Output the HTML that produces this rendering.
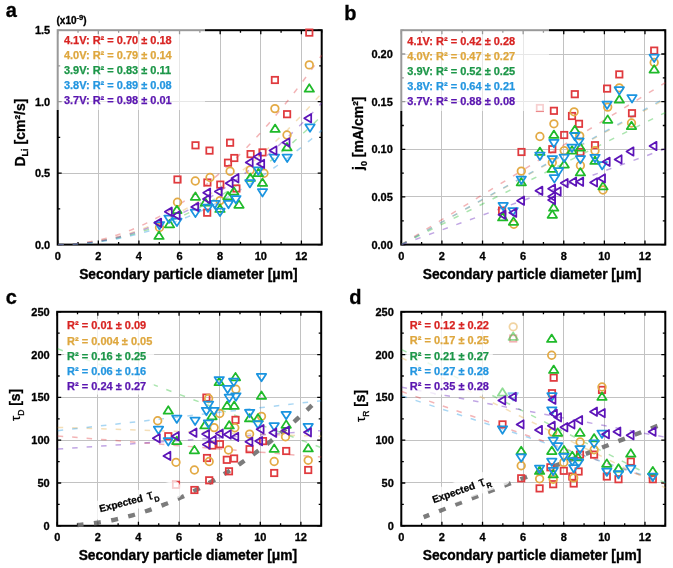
<!DOCTYPE html>
<html><head><meta charset="utf-8"><style>
html,body{margin:0;padding:0;background:#fff;}
svg{display:block;will-change:transform;}
text{font-family:"Liberation Sans",sans-serif;font-weight:bold;}
.tk{font-size:11px;fill:#000;stroke:#000;stroke-width:0.3px;}
.xl{font-size:14px;fill:#000;stroke:#000;stroke-width:0.3px;}
.xlb{font-size:13.8px;fill:#000;stroke:#000;stroke-width:0.35px;}
.lg{font-size:11px;}
.ex{font-size:10px;fill:#000;stroke:#000;stroke-width:0.25px;}
.pl{font-size:20px;fill:#000;stroke:#000;stroke-width:0.3px;}
</style></head><body>
<svg width="673" height="568" viewBox="0 0 673 568">
<rect width="673" height="568" fill="#fff"/>
<path d="M98.50 30.20V244.60M138.50 30.20V244.60M179.50 30.20V244.60M220.50 30.20V244.60M260.50 30.20V244.60M301.50 30.20V244.60M57.70 173.50H321.70M57.70 101.50H321.70" stroke="#c2c2c2" stroke-width="1" fill="none"/>
<path d="M57.70 244.60v-4M57.70 30.20v4M78.01 244.60v-2.5M78.01 30.20v2.5M98.32 244.60v-4M98.32 30.20v4M118.62 244.60v-2.5M118.62 30.20v2.5M138.93 244.60v-4M138.93 30.20v4M159.24 244.60v-2.5M159.24 30.20v2.5M179.55 244.60v-4M179.55 30.20v4M199.85 244.60v-2.5M199.85 30.20v2.5M220.16 244.60v-4M220.16 30.20v4M240.47 244.60v-2.5M240.47 30.20v2.5M260.78 244.60v-4M260.78 30.20v4M281.08 244.60v-2.5M281.08 30.20v2.5M301.39 244.60v-4M301.39 30.20v4M321.70 244.60v-2.5M321.70 30.20v2.5M57.70 244.60h4M321.70 244.60h-4M57.70 208.87h2.5M321.70 208.87h-2.5M57.70 173.13h4M321.70 173.13h-4M57.70 137.40h2.5M321.70 137.40h-2.5M57.70 101.67h4M321.70 101.67h-4M57.70 65.93h2.5M321.70 65.93h-2.5M57.70 30.20h4M321.70 30.20h-4" stroke="#000" stroke-width="1.3" fill="none"/>
<rect x="57.70" y="30.20" width="264.00" height="214.40" stroke="#000" stroke-width="2" fill="none"/>
<text x="57.70" y="259.60" text-anchor="middle" class="tk">0</text>
<text x="98.32" y="259.60" text-anchor="middle" class="tk">2</text>
<text x="138.93" y="259.60" text-anchor="middle" class="tk">4</text>
<text x="179.55" y="259.60" text-anchor="middle" class="tk">6</text>
<text x="220.16" y="259.60" text-anchor="middle" class="tk">8</text>
<text x="260.78" y="259.60" text-anchor="middle" class="tk">10</text>
<text x="301.39" y="259.60" text-anchor="middle" class="tk">12</text>
<text x="50.20" y="248.50" text-anchor="end" class="tk">0.0</text>
<text x="50.20" y="177.03" text-anchor="end" class="tk">0.5</text>
<text x="50.20" y="105.57" text-anchor="end" class="tk">1.0</text>
<text x="50.20" y="34.10" text-anchor="end" class="tk">1.5</text>
<text x="188.40" y="278.60" text-anchor="middle" class="xlb">Secondary particle diameter [μm]</text>
<path d="M57.70 244.60 L59.73 244.59 L61.76 244.56 L63.79 244.50 L65.82 244.42 L67.85 244.32 L69.88 244.20 L71.92 244.05 L73.95 243.88 L75.98 243.69 L78.01 243.48 L80.04 243.24 L82.07 242.99 L84.10 242.71 L86.13 242.40 L88.16 242.08 L90.19 241.73 L92.22 241.36 L94.25 240.97 L96.28 240.55 L98.32 240.12 L100.35 239.66 L102.38 239.18 L104.41 238.67 L106.44 238.15 L108.47 237.60 L110.50 237.02 L112.53 236.43 L114.56 235.81 L116.59 235.18 L118.62 234.51 L120.65 233.83 L122.68 233.13 L124.72 232.40 L126.75 231.65 L128.78 230.87 L130.81 230.08 L132.84 229.26 L134.87 228.42 L136.90 227.56 L138.93 226.67 L140.96 225.76 L142.99 224.83 L145.02 223.88 L147.05 222.91 L149.08 221.91 L151.12 220.89 L153.15 219.85 L155.18 218.78 L157.21 217.69 L159.24 216.59 L161.27 215.45 L163.30 214.30 L165.33 213.12 L167.36 211.92 L169.39 210.70 L171.42 209.46 L173.45 208.19 L175.48 206.90 L177.52 205.59 L179.55 204.26 L181.58 202.90 L183.61 201.52 L185.64 200.12 L187.67 198.70 L189.70 197.25 L191.73 195.79 L193.76 194.30 L195.79 192.78 L197.82 191.25 L199.85 189.69 L201.88 188.11 L203.92 186.51 L205.95 184.88 L207.98 183.24 L210.01 181.57 L212.04 179.87 L214.07 178.16 L216.10 176.42 L218.13 174.66 L220.16 172.88 L222.19 171.08 L224.22 169.25 L226.25 167.40 L228.28 165.53 L230.32 163.64 L232.35 161.72 L234.38 159.78 L236.41 157.82 L238.44 155.84 L240.47 153.83 L242.50 151.80 L244.53 149.75 L246.56 147.68 L248.59 145.58 L250.62 143.47 L252.65 141.33 L254.68 139.16 L256.72 136.98 L258.75 134.77 L260.78 132.54 L262.81 130.29 L264.84 128.01 L266.87 125.72 L268.90 123.40 L270.93 121.05 L272.96 118.69 L274.99 116.30 L277.02 113.89 L279.05 111.46 L281.08 109.01 L283.12 106.53 L285.15 104.03 L287.18 101.51 L289.21 98.97 L291.24 96.40 L293.27 93.81 L295.30 91.20 L297.33 88.57 L299.36 85.91 L301.39 83.23 L303.42 80.53 L305.45 77.81 L307.48 75.06 L309.52 72.30 L311.55 69.51 L313.58 66.69 L315.61 63.86 L317.64 61.00 L319.67 58.12 L321.70 55.22" stroke="#e03a3e" stroke-width="1.5" fill="none" stroke-dasharray="5.5 9" stroke-dashoffset="-0.5" opacity="0.38"/>
<path d="M57.70 244.60 L59.73 244.59 L61.76 244.56 L63.79 244.52 L65.82 244.46 L67.85 244.38 L69.88 244.28 L71.92 244.16 L73.95 244.03 L75.98 243.87 L78.01 243.70 L80.04 243.52 L82.07 243.31 L84.10 243.09 L86.13 242.84 L88.16 242.58 L90.19 242.31 L92.22 242.01 L94.25 241.70 L96.28 241.36 L98.32 241.02 L100.35 240.65 L102.38 240.26 L104.41 239.86 L106.44 239.44 L108.47 239.00 L110.50 238.54 L112.53 238.07 L114.56 237.57 L116.59 237.06 L118.62 236.53 L120.65 235.99 L122.68 235.42 L124.72 234.84 L126.75 234.24 L128.78 233.62 L130.81 232.99 L132.84 232.33 L134.87 231.66 L136.90 230.97 L138.93 230.26 L140.96 229.54 L142.99 228.79 L145.02 228.03 L147.05 227.25 L149.08 226.45 L151.12 225.64 L153.15 224.80 L155.18 223.95 L157.21 223.08 L159.24 222.20 L161.27 221.29 L163.30 220.37 L165.33 219.43 L167.36 218.47 L169.39 217.49 L171.42 216.50 L173.45 215.48 L175.48 214.45 L177.52 213.40 L179.55 212.34 L181.58 211.25 L183.61 210.15 L185.64 209.03 L187.67 207.89 L189.70 206.74 L191.73 205.56 L193.76 204.37 L195.79 203.16 L197.82 201.93 L199.85 200.69 L201.88 199.42 L203.92 198.14 L205.95 196.84 L207.98 195.52 L210.01 194.19 L212.04 192.84 L214.07 191.46 L216.10 190.08 L218.13 188.67 L220.16 187.24 L222.19 185.80 L224.22 184.34 L226.25 182.86 L228.28 181.36 L230.32 179.85 L232.35 178.32 L234.38 176.77 L236.41 175.20 L238.44 173.61 L240.47 172.01 L242.50 170.39 L244.53 168.75 L246.56 167.09 L248.59 165.41 L250.62 163.72 L252.65 162.01 L254.68 160.28 L256.72 158.53 L258.75 156.76 L260.78 154.98 L262.81 153.18 L264.84 151.36 L266.87 149.52 L268.90 147.67 L270.93 145.79 L272.96 143.90 L274.99 141.99 L277.02 140.07 L279.05 138.12 L281.08 136.16 L283.12 134.18 L285.15 132.18 L287.18 130.17 L289.21 128.13 L291.24 126.08 L293.27 124.01 L295.30 121.92 L297.33 119.81 L299.36 117.69 L301.39 115.55 L303.42 113.39 L305.45 111.21 L307.48 109.02 L309.52 106.80 L311.55 104.57 L313.58 102.32 L315.61 100.05 L317.64 97.77 L319.67 95.46 L321.70 93.14" stroke="#e3aa45" stroke-width="1.5" fill="none" stroke-dasharray="5.5 9" stroke-dashoffset="-0.5" opacity="0.38"/>
<path d="M57.70 244.60 L59.73 244.59 L61.76 244.57 L63.79 244.53 L65.82 244.48 L67.85 244.41 L69.88 244.33 L71.92 244.23 L73.95 244.11 L75.98 243.98 L78.01 243.84 L80.04 243.68 L82.07 243.50 L84.10 243.31 L86.13 243.11 L88.16 242.89 L90.19 242.65 L92.22 242.40 L94.25 242.13 L96.28 241.85 L98.32 241.55 L100.35 241.24 L102.38 240.91 L104.41 240.57 L106.44 240.21 L108.47 239.84 L110.50 239.45 L112.53 239.05 L114.56 238.63 L116.59 238.19 L118.62 237.74 L120.65 237.28 L122.68 236.80 L124.72 236.30 L126.75 235.79 L128.78 235.27 L130.81 234.73 L132.84 234.17 L134.87 233.60 L136.90 233.01 L138.93 232.41 L140.96 231.79 L142.99 231.16 L145.02 230.51 L147.05 229.85 L149.08 229.17 L151.12 228.48 L153.15 227.77 L155.18 227.05 L157.21 226.31 L159.24 225.55 L161.27 224.78 L163.30 224.00 L165.33 223.20 L167.36 222.38 L169.39 221.55 L171.42 220.71 L173.45 219.85 L175.48 218.97 L177.52 218.08 L179.55 217.17 L181.58 216.25 L183.61 215.32 L185.64 214.36 L187.67 213.40 L189.70 212.41 L191.73 211.41 L193.76 210.40 L195.79 209.37 L197.82 208.33 L199.85 207.27 L201.88 206.20 L203.92 205.11 L205.95 204.00 L207.98 202.88 L210.01 201.75 L212.04 200.60 L214.07 199.43 L216.10 198.25 L218.13 197.05 L220.16 195.84 L222.19 194.62 L224.22 193.37 L226.25 192.12 L228.28 190.84 L230.32 189.56 L232.35 188.25 L234.38 186.94 L236.41 185.60 L238.44 184.26 L240.47 182.89 L242.50 181.51 L244.53 180.12 L246.56 178.71 L248.59 177.28 L250.62 175.84 L252.65 174.39 L254.68 172.92 L256.72 171.43 L258.75 169.93 L260.78 168.42 L262.81 166.89 L264.84 165.34 L266.87 163.78 L268.90 162.20 L270.93 160.61 L272.96 159.00 L274.99 157.38 L277.02 155.74 L279.05 154.09 L281.08 152.42 L283.12 150.73 L285.15 149.04 L287.18 147.32 L289.21 145.59 L291.24 143.85 L293.27 142.09 L295.30 140.31 L297.33 138.52 L299.36 136.72 L301.39 134.90 L303.42 133.06 L305.45 131.21 L307.48 129.34 L309.52 127.46 L311.55 125.56 L313.58 123.65 L315.61 121.72 L317.64 119.78 L319.67 117.82 L321.70 115.85" stroke="#1fba2a" stroke-width="1.5" fill="none" stroke-dasharray="5.5 9" stroke-dashoffset="-0.5" opacity="0.38"/>
<path d="M57.70 244.60 L59.73 244.59 L61.76 244.57 L63.79 244.54 L65.82 244.49 L67.85 244.43 L69.88 244.36 L71.92 244.27 L73.95 244.17 L75.98 244.05 L78.01 243.92 L80.04 243.78 L82.07 243.63 L84.10 243.46 L86.13 243.27 L88.16 243.08 L90.19 242.87 L92.22 242.65 L94.25 242.41 L96.28 242.16 L98.32 241.90 L100.35 241.62 L102.38 241.33 L104.41 241.02 L106.44 240.71 L108.47 240.37 L110.50 240.03 L112.53 239.67 L114.56 239.30 L116.59 238.91 L118.62 238.52 L120.65 238.10 L122.68 237.68 L124.72 237.24 L126.75 236.78 L128.78 236.32 L130.81 235.84 L132.84 235.34 L134.87 234.84 L136.90 234.32 L138.93 233.78 L140.96 233.24 L142.99 232.67 L145.02 232.10 L147.05 231.51 L149.08 230.91 L151.12 230.29 L153.15 229.67 L155.18 229.02 L157.21 228.37 L159.24 227.70 L161.27 227.02 L163.30 226.32 L165.33 225.61 L167.36 224.89 L169.39 224.15 L171.42 223.40 L173.45 222.63 L175.48 221.86 L177.52 221.07 L179.55 220.26 L181.58 219.44 L183.61 218.61 L185.64 217.77 L187.67 216.91 L189.70 216.04 L191.73 215.15 L193.76 214.25 L195.79 213.34 L197.82 212.41 L199.85 211.47 L201.88 210.52 L203.92 209.55 L205.95 208.57 L207.98 207.58 L210.01 206.57 L212.04 205.55 L214.07 204.52 L216.10 203.47 L218.13 202.41 L220.16 201.33 L222.19 200.24 L224.22 199.14 L226.25 198.03 L228.28 196.90 L230.32 195.75 L232.35 194.60 L234.38 193.43 L236.41 192.24 L238.44 191.05 L240.47 189.84 L242.50 188.61 L244.53 187.38 L246.56 186.13 L248.59 184.86 L250.62 183.58 L252.65 182.29 L254.68 180.99 L256.72 179.67 L258.75 178.34 L260.78 176.99 L262.81 175.63 L264.84 174.26 L266.87 172.88 L268.90 171.48 L270.93 170.06 L272.96 168.64 L274.99 167.20 L277.02 165.74 L279.05 164.28 L281.08 162.79 L283.12 161.30 L285.15 159.79 L287.18 158.27 L289.21 156.74 L291.24 155.19 L293.27 153.63 L295.30 152.05 L297.33 150.46 L299.36 148.86 L301.39 147.25 L303.42 145.62 L305.45 143.97 L307.48 142.32 L309.52 140.65 L311.55 138.96 L313.58 137.27 L315.61 135.56 L317.64 133.83 L319.67 132.09 L321.70 130.34" stroke="#1a94e0" stroke-width="1.5" fill="none" stroke-dasharray="5.5 9" stroke-dashoffset="-0.5" opacity="0.38"/>
<path d="M57.70 244.60 L59.73 244.59 L61.76 244.57 L63.79 244.52 L65.82 244.47 L67.85 244.39 L69.88 244.30 L71.92 244.19 L73.95 244.06 L75.98 243.92 L78.01 243.76 L80.04 243.59 L82.07 243.39 L84.10 243.18 L86.13 242.96 L88.16 242.72 L90.19 242.46 L92.22 242.18 L94.25 241.89 L96.28 241.58 L98.32 241.25 L100.35 240.91 L102.38 240.55 L104.41 240.17 L106.44 239.78 L108.47 239.37 L110.50 238.94 L112.53 238.49 L114.56 238.03 L116.59 237.56 L118.62 237.06 L120.65 236.55 L122.68 236.02 L124.72 235.48 L126.75 234.92 L128.78 234.34 L130.81 233.74 L132.84 233.13 L134.87 232.51 L136.90 231.86 L138.93 231.20 L140.96 230.52 L142.99 229.82 L145.02 229.11 L147.05 228.38 L149.08 227.64 L151.12 226.88 L153.15 226.10 L155.18 225.30 L157.21 224.49 L159.24 223.66 L161.27 222.81 L163.30 221.95 L165.33 221.07 L167.36 220.18 L169.39 219.26 L171.42 218.33 L173.45 217.39 L175.48 216.42 L177.52 215.44 L179.55 214.45 L181.58 213.43 L183.61 212.40 L185.64 211.36 L187.67 210.29 L189.70 209.21 L191.73 208.11 L193.76 207.00 L195.79 205.87 L197.82 204.72 L199.85 203.56 L201.88 202.38 L203.92 201.18 L205.95 199.96 L207.98 198.73 L210.01 197.49 L212.04 196.22 L214.07 194.94 L216.10 193.64 L218.13 192.33 L220.16 190.99 L222.19 189.65 L224.22 188.28 L226.25 186.90 L228.28 185.50 L230.32 184.08 L232.35 182.65 L234.38 181.20 L236.41 179.74 L238.44 178.25 L240.47 176.76 L242.50 175.24 L244.53 173.71 L246.56 172.16 L248.59 170.59 L250.62 169.01 L252.65 167.41 L254.68 165.79 L256.72 164.16 L258.75 162.51 L260.78 160.84 L262.81 159.16 L264.84 157.46 L266.87 155.74 L268.90 154.01 L270.93 152.26 L272.96 150.49 L274.99 148.70 L277.02 146.90 L279.05 145.09 L281.08 143.25 L283.12 141.40 L285.15 139.53 L287.18 137.65 L289.21 135.75 L291.24 133.83 L293.27 131.89 L295.30 129.94 L297.33 127.97 L299.36 125.99 L301.39 123.99 L303.42 121.97 L305.45 119.93 L307.48 117.88 L309.52 115.81 L311.55 113.73 L313.58 111.62 L315.61 109.51 L317.64 107.37 L319.67 105.22 L321.70 103.05" stroke="#5c14b8" stroke-width="1.5" fill="none" stroke-dasharray="5.5 9" stroke-dashoffset="-0.5" opacity="0.38"/>
<rect x="306.10" y="29.40" width="6.4" height="6.4" stroke="#e03a3e" stroke-width="1.75" fill="none" opacity="1"/>
<rect x="271.70" y="76.80" width="6.4" height="6.4" stroke="#e03a3e" stroke-width="1.75" fill="none" opacity="1"/>
<rect x="283.90" y="111.00" width="6.4" height="6.4" stroke="#e03a3e" stroke-width="1.75" fill="none" opacity="1"/>
<rect x="192.30" y="142.10" width="6.4" height="6.4" stroke="#e03a3e" stroke-width="1.75" fill="none" opacity="1"/>
<rect x="206.30" y="147.40" width="6.4" height="6.4" stroke="#e03a3e" stroke-width="1.75" fill="none" opacity="1"/>
<rect x="226.90" y="139.50" width="6.4" height="6.4" stroke="#e03a3e" stroke-width="1.75" fill="none" opacity="1"/>
<rect x="231.10" y="154.80" width="6.4" height="6.4" stroke="#e03a3e" stroke-width="1.75" fill="none" opacity="1"/>
<rect x="224.80" y="159.50" width="6.4" height="6.4" stroke="#e03a3e" stroke-width="1.75" fill="none" opacity="1"/>
<rect x="247.40" y="150.90" width="6.4" height="6.4" stroke="#e03a3e" stroke-width="1.75" fill="none" opacity="1"/>
<rect x="259.30" y="149.20" width="6.4" height="6.4" stroke="#e03a3e" stroke-width="1.75" fill="none" opacity="1"/>
<rect x="174.30" y="176.30" width="6.4" height="6.4" stroke="#e03a3e" stroke-width="1.75" fill="none" opacity="1"/>
<rect x="204.20" y="179.30" width="6.4" height="6.4" stroke="#e03a3e" stroke-width="1.75" fill="none" opacity="1"/>
<rect x="217.10" y="181.40" width="6.4" height="6.4" stroke="#e03a3e" stroke-width="1.75" fill="none" opacity="1"/>
<rect x="233.20" y="185.30" width="6.4" height="6.4" stroke="#e03a3e" stroke-width="1.75" fill="none" opacity="1"/>
<rect x="204.00" y="209.50" width="6.4" height="6.4" stroke="#e03a3e" stroke-width="1.75" fill="none" opacity="1"/>
<circle cx="309.30" cy="64.90" r="3.8" stroke="#e3aa45" stroke-width="1.75" fill="none" opacity="1"/>
<circle cx="274.90" cy="108.60" r="3.8" stroke="#e3aa45" stroke-width="1.75" fill="none" opacity="1"/>
<circle cx="287.00" cy="135.00" r="3.8" stroke="#e3aa45" stroke-width="1.75" fill="none" opacity="1"/>
<circle cx="250.20" cy="170.00" r="3.8" stroke="#e3aa45" stroke-width="1.75" fill="none" opacity="1"/>
<circle cx="264.00" cy="173.20" r="3.8" stroke="#e3aa45" stroke-width="1.75" fill="none" opacity="1"/>
<circle cx="230.10" cy="171.20" r="3.8" stroke="#e3aa45" stroke-width="1.75" fill="none" opacity="1"/>
<circle cx="210.00" cy="177.50" r="3.8" stroke="#e3aa45" stroke-width="1.75" fill="none" opacity="1"/>
<circle cx="195.30" cy="181.00" r="3.8" stroke="#e3aa45" stroke-width="1.75" fill="none" opacity="1"/>
<circle cx="220.00" cy="200.60" r="3.8" stroke="#e3aa45" stroke-width="1.75" fill="none" opacity="1"/>
<circle cx="177.50" cy="202.20" r="3.8" stroke="#e3aa45" stroke-width="1.75" fill="none" opacity="1"/>
<circle cx="159.50" cy="227.50" r="3.8" stroke="#e3aa45" stroke-width="1.75" fill="none" opacity="1"/>
<path d="M309.30 84.26L314.00 91.66H304.60Z" stroke="#1fba2a" stroke-width="1.75" fill="none" stroke-linejoin="round" opacity="1"/>
<path d="M275.10 124.56L279.80 131.96H270.40Z" stroke="#1fba2a" stroke-width="1.75" fill="none" stroke-linejoin="round" opacity="1"/>
<path d="M287.00 143.06L291.70 150.46H282.30Z" stroke="#1fba2a" stroke-width="1.75" fill="none" stroke-linejoin="round" opacity="1"/>
<path d="M258.30 168.76L263.00 176.16H253.60Z" stroke="#1fba2a" stroke-width="1.75" fill="none" stroke-linejoin="round" opacity="1"/>
<path d="M250.30 173.56L255.00 180.96H245.60Z" stroke="#1fba2a" stroke-width="1.75" fill="none" stroke-linejoin="round" opacity="1"/>
<path d="M262.50 178.56L267.20 185.96H257.80Z" stroke="#1fba2a" stroke-width="1.75" fill="none" stroke-linejoin="round" opacity="1"/>
<path d="M233.80 187.16L238.50 194.56H229.10Z" stroke="#1fba2a" stroke-width="1.75" fill="none" stroke-linejoin="round" opacity="1"/>
<path d="M228.00 191.96L232.70 199.36H223.30Z" stroke="#1fba2a" stroke-width="1.75" fill="none" stroke-linejoin="round" opacity="1"/>
<path d="M239.00 200.36L243.70 207.76H234.30Z" stroke="#1fba2a" stroke-width="1.75" fill="none" stroke-linejoin="round" opacity="1"/>
<path d="M220.00 204.56L224.70 211.96H215.30Z" stroke="#1fba2a" stroke-width="1.75" fill="none" stroke-linejoin="round" opacity="1"/>
<path d="M205.30 198.26L210.00 205.66H200.60Z" stroke="#1fba2a" stroke-width="1.75" fill="none" stroke-linejoin="round" opacity="1"/>
<path d="M195.40 192.46L200.10 199.86H190.70Z" stroke="#1fba2a" stroke-width="1.75" fill="none" stroke-linejoin="round" opacity="1"/>
<path d="M176.90 205.66L181.60 213.06H172.20Z" stroke="#1fba2a" stroke-width="1.75" fill="none" stroke-linejoin="round" opacity="1"/>
<path d="M169.50 219.96L174.20 227.36H164.80Z" stroke="#1fba2a" stroke-width="1.75" fill="none" stroke-linejoin="round" opacity="1"/>
<path d="M159.00 231.56L163.70 238.96H154.30Z" stroke="#1fba2a" stroke-width="1.75" fill="none" stroke-linejoin="round" opacity="1"/>
<path d="M310.00 131.84L314.70 124.44H305.30Z" stroke="#1a94e0" stroke-width="1.75" fill="none" stroke-linejoin="round" opacity="1"/>
<path d="M287.20 162.04L291.90 154.64H282.50Z" stroke="#1a94e0" stroke-width="1.75" fill="none" stroke-linejoin="round" opacity="1"/>
<path d="M274.50 162.04L279.20 154.64H269.80Z" stroke="#1a94e0" stroke-width="1.75" fill="none" stroke-linejoin="round" opacity="1"/>
<path d="M258.30 174.74L263.00 167.34H253.60Z" stroke="#1a94e0" stroke-width="1.75" fill="none" stroke-linejoin="round" opacity="1"/>
<path d="M249.90 187.44L254.60 180.04H245.20Z" stroke="#1a94e0" stroke-width="1.75" fill="none" stroke-linejoin="round" opacity="1"/>
<path d="M262.50 196.54L267.20 189.14H257.80Z" stroke="#1a94e0" stroke-width="1.75" fill="none" stroke-linejoin="round" opacity="1"/>
<path d="M235.90 203.44L240.60 196.04H231.20Z" stroke="#1a94e0" stroke-width="1.75" fill="none" stroke-linejoin="round" opacity="1"/>
<path d="M228.50 208.24L233.20 200.84H223.80Z" stroke="#1a94e0" stroke-width="1.75" fill="none" stroke-linejoin="round" opacity="1"/>
<path d="M214.80 208.24L219.50 200.84H210.10Z" stroke="#1a94e0" stroke-width="1.75" fill="none" stroke-linejoin="round" opacity="1"/>
<path d="M207.90 211.94L212.60 204.54H203.20Z" stroke="#1a94e0" stroke-width="1.75" fill="none" stroke-linejoin="round" opacity="1"/>
<path d="M220.00 216.14L224.70 208.74H215.30Z" stroke="#1a94e0" stroke-width="1.75" fill="none" stroke-linejoin="round" opacity="1"/>
<path d="M195.40 217.14L200.10 209.74H190.70Z" stroke="#1a94e0" stroke-width="1.75" fill="none" stroke-linejoin="round" opacity="1"/>
<path d="M169.00 222.94L173.70 215.54H164.30Z" stroke="#1a94e0" stroke-width="1.75" fill="none" stroke-linejoin="round" opacity="1"/>
<path d="M176.90 226.14L181.60 218.74H172.20Z" stroke="#1a94e0" stroke-width="1.75" fill="none" stroke-linejoin="round" opacity="1"/>
<path d="M159.50 229.44L164.20 222.04H154.80Z" stroke="#1a94e0" stroke-width="1.75" fill="none" stroke-linejoin="round" opacity="1"/>
<path d="M304.20 118.20L311.20 114.00V122.40Z" stroke="#5c14b8" stroke-width="1.75" fill="none" stroke-linejoin="round" opacity="1"/>
<path d="M282.50 142.50L289.50 138.30V146.70Z" stroke="#5c14b8" stroke-width="1.75" fill="none" stroke-linejoin="round" opacity="1"/>
<path d="M269.50 150.50L276.50 146.30V154.70Z" stroke="#5c14b8" stroke-width="1.75" fill="none" stroke-linejoin="round" opacity="1"/>
<path d="M253.80 156.80L260.80 152.60V161.00Z" stroke="#5c14b8" stroke-width="1.75" fill="none" stroke-linejoin="round" opacity="1"/>
<path d="M245.70 162.40L252.70 158.20V166.60Z" stroke="#5c14b8" stroke-width="1.75" fill="none" stroke-linejoin="round" opacity="1"/>
<path d="M257.20 163.90L264.20 159.70V168.10Z" stroke="#5c14b8" stroke-width="1.75" fill="none" stroke-linejoin="round" opacity="1"/>
<path d="M231.50 178.20L238.50 174.00V182.40Z" stroke="#5c14b8" stroke-width="1.75" fill="none" stroke-linejoin="round" opacity="1"/>
<path d="M225.60 183.20L232.60 179.00V187.40Z" stroke="#5c14b8" stroke-width="1.75" fill="none" stroke-linejoin="round" opacity="1"/>
<path d="M214.80 191.60L221.80 187.40V195.80Z" stroke="#5c14b8" stroke-width="1.75" fill="none" stroke-linejoin="round" opacity="1"/>
<path d="M203.20 192.70L210.20 188.50V196.90Z" stroke="#5c14b8" stroke-width="1.75" fill="none" stroke-linejoin="round" opacity="1"/>
<path d="M203.00 199.00L210.00 194.80V203.20Z" stroke="#5c14b8" stroke-width="1.75" fill="none" stroke-linejoin="round" opacity="1"/>
<path d="M191.20 206.90L198.20 202.70V211.10Z" stroke="#5c14b8" stroke-width="1.75" fill="none" stroke-linejoin="round" opacity="1"/>
<path d="M164.80 211.70L171.80 207.50V215.90Z" stroke="#5c14b8" stroke-width="1.75" fill="none" stroke-linejoin="round" opacity="1"/>
<path d="M172.70 215.40L179.70 211.20V219.60Z" stroke="#5c14b8" stroke-width="1.75" fill="none" stroke-linejoin="round" opacity="1"/>
<path d="M154.20 222.80L161.20 218.60V227.00Z" stroke="#5c14b8" stroke-width="1.75" fill="none" stroke-linejoin="round" opacity="1"/>
<rect x="55" y="28" width="150" height="82" fill="#fff" opacity="0.6"/>
<text x="63.9" y="44.30" class="lg" fill="#d82422" stroke="#d82422" stroke-width="0.25">4.1V: R² = 0.70 ± 0.18</text>
<text x="63.9" y="59.20" class="lg" fill="#dea73e" stroke="#dea73e" stroke-width="0.25">4.0V: R² = 0.79 ± 0.14</text>
<text x="63.9" y="74.10" class="lg" fill="#1c9648" stroke="#1c9648" stroke-width="0.25">3.9V: R² = 0.83 ± 0.11</text>
<text x="63.9" y="89.00" class="lg" fill="#2496e0" stroke="#2496e0" stroke-width="0.25">3.8V: R² = 0.89 ± 0.08</text>
<text x="63.9" y="103.90" class="lg" fill="#5a16b0" stroke="#5a16b0" stroke-width="0.25">3.7V: R² = 0.98 ± 0.01</text>
<text x="56.5" y="23.6" class="tk" style="font-size:10px">(x10<tspan dy="-4" style="font-size:7.6px">-9</tspan><tspan dy="4">)</tspan></text>
<text transform="translate(24.8 166.5) rotate(-90)" class="xl">D<tspan dy="3.5" style="font-size:9px">Li</tspan><tspan dy="-3.5"> [cm²/s]</tspan></text>
<path d="M441.50 30.20V244.60M482.50 30.20V244.60M523.50 30.20V244.60M563.50 30.20V244.60M604.50 30.20V244.60M644.50 30.20V244.60M401.30 196.50H665.30M401.30 149.50H665.30M401.30 101.50H665.30M401.30 54.50H665.30" stroke="#c2c2c2" stroke-width="1" fill="none"/>
<path d="M401.30 244.60v-4M401.30 30.20v4M421.61 244.60v-2.5M421.61 30.20v2.5M441.92 244.60v-4M441.92 30.20v4M462.22 244.60v-2.5M462.22 30.20v2.5M482.53 244.60v-4M482.53 30.20v4M502.84 244.60v-2.5M502.84 30.20v2.5M523.15 244.60v-4M523.15 30.20v4M543.45 244.60v-2.5M543.45 30.20v2.5M563.76 244.60v-4M563.76 30.20v4M584.07 244.60v-2.5M584.07 30.20v2.5M604.38 244.60v-4M604.38 30.20v4M624.68 244.60v-2.5M624.68 30.20v2.5M644.99 244.60v-4M644.99 30.20v4M665.30 244.60v-2.5M665.30 30.20v2.5M401.30 244.60h4M665.30 244.60h-4M401.30 220.78h2.5M665.30 220.78h-2.5M401.30 196.96h4M665.30 196.96h-4M401.30 173.13h2.5M665.30 173.13h-2.5M401.30 149.31h4M665.30 149.31h-4M401.30 125.49h2.5M665.30 125.49h-2.5M401.30 101.67h4M665.30 101.67h-4M401.30 77.84h2.5M665.30 77.84h-2.5M401.30 54.02h4M665.30 54.02h-4M401.30 30.20h2.5M665.30 30.20h-2.5" stroke="#000" stroke-width="1.3" fill="none"/>
<rect x="401.30" y="30.20" width="264.00" height="214.40" stroke="#000" stroke-width="2" fill="none"/>
<text x="401.30" y="259.60" text-anchor="middle" class="tk">0</text>
<text x="441.92" y="259.60" text-anchor="middle" class="tk">2</text>
<text x="482.53" y="259.60" text-anchor="middle" class="tk">4</text>
<text x="523.15" y="259.60" text-anchor="middle" class="tk">6</text>
<text x="563.76" y="259.60" text-anchor="middle" class="tk">8</text>
<text x="604.38" y="259.60" text-anchor="middle" class="tk">10</text>
<text x="644.99" y="259.60" text-anchor="middle" class="tk">12</text>
<text x="392.80" y="248.50" text-anchor="end" class="tk">0.00</text>
<text x="392.80" y="200.86" text-anchor="end" class="tk">0.05</text>
<text x="392.80" y="153.21" text-anchor="end" class="tk">0.10</text>
<text x="392.80" y="105.57" text-anchor="end" class="tk">0.15</text>
<text x="392.80" y="57.92" text-anchor="end" class="tk">0.20</text>
<text x="532.00" y="278.60" text-anchor="middle" class="xlb">Secondary particle diameter [μm]</text>
<path d="M401.30 244.60 L665.30 82.69" stroke="#e03a3e" stroke-width="1.5" fill="none" stroke-dasharray="5.5 9" stroke-dashoffset="-0.5" opacity="0.38"/>
<path d="M401.30 244.60 L665.30 99.17" stroke="#e3aa45" stroke-width="1.5" fill="none" stroke-dasharray="5.5 9" stroke-dashoffset="-0.5" opacity="0.38"/>
<path d="M401.30 244.60 L665.30 112.55" stroke="#1fba2a" stroke-width="1.5" fill="none" stroke-dasharray="5.5 9" stroke-dashoffset="-0.5" opacity="0.38"/>
<path d="M401.30 244.60 L665.30 98.06" stroke="#1a94e0" stroke-width="1.5" fill="none" stroke-dasharray="5.5 9" stroke-dashoffset="-0.5" opacity="0.38"/>
<path d="M401.30 244.60 L665.30 148.84" stroke="#5c14b8" stroke-width="1.5" fill="none" stroke-dasharray="5.5 9" stroke-dashoffset="-0.5" opacity="0.38"/>
<rect x="651.00" y="47.40" width="6.4" height="6.4" stroke="#e03a3e" stroke-width="1.75" fill="none" opacity="1"/>
<rect x="616.10" y="71.20" width="6.4" height="6.4" stroke="#e03a3e" stroke-width="1.75" fill="none" opacity="1"/>
<rect x="603.90" y="85.40" width="6.4" height="6.4" stroke="#e03a3e" stroke-width="1.75" fill="none" opacity="1"/>
<rect x="628.80" y="110.00" width="6.4" height="6.4" stroke="#e03a3e" stroke-width="1.75" fill="none" opacity="1"/>
<rect x="571.60" y="91.00" width="6.4" height="6.4" stroke="#e03a3e" stroke-width="1.75" fill="none" opacity="1"/>
<rect x="536.70" y="104.80" width="6.4" height="6.4" stroke="#e03a3e" stroke-width="1.75" fill="none" opacity="0.6"/>
<rect x="550.70" y="107.60" width="6.4" height="6.4" stroke="#e03a3e" stroke-width="1.75" fill="none" opacity="1"/>
<rect x="568.80" y="112.80" width="6.4" height="6.4" stroke="#e03a3e" stroke-width="1.75" fill="none" opacity="1"/>
<rect x="575.80" y="120.60" width="6.4" height="6.4" stroke="#e03a3e" stroke-width="1.75" fill="none" opacity="1"/>
<rect x="561.00" y="131.80" width="6.4" height="6.4" stroke="#e03a3e" stroke-width="1.75" fill="none" opacity="1"/>
<rect x="591.80" y="142.00" width="6.4" height="6.4" stroke="#e03a3e" stroke-width="1.75" fill="none" opacity="1"/>
<rect x="518.30" y="148.80" width="6.4" height="6.4" stroke="#e03a3e" stroke-width="1.75" fill="none" opacity="1"/>
<rect x="549.10" y="146.00" width="6.4" height="6.4" stroke="#e03a3e" stroke-width="1.75" fill="none" opacity="1"/>
<rect x="577.20" y="148.80" width="6.4" height="6.4" stroke="#e03a3e" stroke-width="1.75" fill="none" opacity="1"/>
<rect x="498.90" y="207.40" width="6.4" height="6.4" stroke="#e03a3e" stroke-width="1.75" fill="none" opacity="1"/>
<circle cx="654.20" cy="62.50" r="3.8" stroke="#e3aa45" stroke-width="1.75" fill="none" opacity="1"/>
<circle cx="619.30" cy="87.80" r="3.8" stroke="#e3aa45" stroke-width="1.75" fill="none" opacity="1"/>
<circle cx="607.70" cy="107.10" r="3.8" stroke="#e3aa45" stroke-width="1.75" fill="none" opacity="1"/>
<circle cx="631.50" cy="123.00" r="3.8" stroke="#e3aa45" stroke-width="1.75" fill="none" opacity="1"/>
<circle cx="574.10" cy="111.80" r="3.8" stroke="#e3aa45" stroke-width="1.75" fill="none" opacity="1"/>
<circle cx="553.90" cy="123.80" r="3.8" stroke="#e3aa45" stroke-width="1.75" fill="none" opacity="1"/>
<circle cx="539.90" cy="136.50" r="3.8" stroke="#e3aa45" stroke-width="1.75" fill="none" opacity="1"/>
<circle cx="579.70" cy="135.80" r="3.8" stroke="#e3aa45" stroke-width="1.75" fill="none" opacity="1"/>
<circle cx="564.20" cy="150.60" r="3.8" stroke="#e3aa45" stroke-width="1.75" fill="none" opacity="1"/>
<circle cx="552.30" cy="162.50" r="3.8" stroke="#e3aa45" stroke-width="1.75" fill="none" opacity="1"/>
<circle cx="521.30" cy="171.10" r="3.8" stroke="#e3aa45" stroke-width="1.75" fill="none" opacity="1"/>
<circle cx="580.40" cy="165.50" r="3.8" stroke="#e3aa45" stroke-width="1.75" fill="none" opacity="1"/>
<circle cx="595.00" cy="150.70" r="3.8" stroke="#e3aa45" stroke-width="1.75" fill="none" opacity="1"/>
<circle cx="513.80" cy="224.20" r="3.8" stroke="#e3aa45" stroke-width="1.75" fill="none" opacity="1"/>
<circle cx="603.00" cy="190.00" r="3.8" stroke="#e3aa45" stroke-width="1.75" fill="none" opacity="1"/>
<path d="M654.20 65.16L658.90 72.56H649.50Z" stroke="#1fba2a" stroke-width="1.75" fill="none" stroke-linejoin="round" opacity="1"/>
<path d="M619.30 95.26L624.00 102.66H614.60Z" stroke="#1fba2a" stroke-width="1.75" fill="none" stroke-linejoin="round" opacity="1"/>
<path d="M607.70 115.36L612.40 122.76H603.00Z" stroke="#1fba2a" stroke-width="1.75" fill="none" stroke-linejoin="round" opacity="1"/>
<path d="M631.50 121.66L636.20 129.06H626.80Z" stroke="#1fba2a" stroke-width="1.75" fill="none" stroke-linejoin="round" opacity="1"/>
<path d="M603.00 181.96L607.70 189.36H598.30Z" stroke="#1fba2a" stroke-width="1.75" fill="none" stroke-linejoin="round" opacity="1"/>
<path d="M595.00 156.56L599.70 163.96H590.30Z" stroke="#1fba2a" stroke-width="1.75" fill="none" stroke-linejoin="round" opacity="1"/>
<path d="M553.90 130.56L558.60 137.96H549.20Z" stroke="#1fba2a" stroke-width="1.75" fill="none" stroke-linejoin="round" opacity="1"/>
<path d="M574.80 125.66L579.50 133.06H570.10Z" stroke="#1fba2a" stroke-width="1.75" fill="none" stroke-linejoin="round" opacity="1"/>
<path d="M539.90 147.56L544.60 154.96H535.20Z" stroke="#1fba2a" stroke-width="1.75" fill="none" stroke-linejoin="round" opacity="1"/>
<path d="M564.20 160.16L568.90 167.56H559.50Z" stroke="#1fba2a" stroke-width="1.75" fill="none" stroke-linejoin="round" opacity="1"/>
<path d="M572.00 146.16L576.70 153.56H567.30Z" stroke="#1fba2a" stroke-width="1.75" fill="none" stroke-linejoin="round" opacity="1"/>
<path d="M580.40 143.26L585.10 150.66H575.70Z" stroke="#1fba2a" stroke-width="1.75" fill="none" stroke-linejoin="round" opacity="1"/>
<path d="M552.30 164.56L557.00 171.96H547.60Z" stroke="#1fba2a" stroke-width="1.75" fill="none" stroke-linejoin="round" opacity="1"/>
<path d="M580.40 168.06L585.10 175.46H575.70Z" stroke="#1fba2a" stroke-width="1.75" fill="none" stroke-linejoin="round" opacity="1"/>
<path d="M521.30 177.96L526.00 185.36H516.60Z" stroke="#1fba2a" stroke-width="1.75" fill="none" stroke-linejoin="round" opacity="1"/>
<path d="M513.50 217.36L518.20 224.76H508.80Z" stroke="#1fba2a" stroke-width="1.75" fill="none" stroke-linejoin="round" opacity="1"/>
<path d="M553.70 203.26L558.40 210.66H549.00Z" stroke="#1fba2a" stroke-width="1.75" fill="none" stroke-linejoin="round" opacity="1"/>
<path d="M552.30 210.36L557.00 217.76H547.60Z" stroke="#1fba2a" stroke-width="1.75" fill="none" stroke-linejoin="round" opacity="1"/>
<path d="M502.70 213.06L507.40 220.46H498.00Z" stroke="#1fba2a" stroke-width="1.75" fill="none" stroke-linejoin="round" opacity="1"/>
<path d="M654.20 62.14L658.90 54.74H649.50Z" stroke="#1a94e0" stroke-width="1.75" fill="none" stroke-linejoin="round" opacity="1"/>
<path d="M619.30 94.64L624.00 87.24H614.60Z" stroke="#1a94e0" stroke-width="1.75" fill="none" stroke-linejoin="round" opacity="1"/>
<path d="M607.10 108.94L611.80 101.54H602.40Z" stroke="#1a94e0" stroke-width="1.75" fill="none" stroke-linejoin="round" opacity="1"/>
<path d="M632.00 102.54L636.70 95.14H627.30Z" stroke="#1a94e0" stroke-width="1.75" fill="none" stroke-linejoin="round" opacity="1"/>
<path d="M602.20 169.44L606.90 162.04H597.50Z" stroke="#1a94e0" stroke-width="1.75" fill="none" stroke-linejoin="round" opacity="1"/>
<path d="M595.00 162.24L599.70 154.84H590.30Z" stroke="#1a94e0" stroke-width="1.75" fill="none" stroke-linejoin="round" opacity="1"/>
<path d="M553.90 147.24L558.60 139.84H549.20Z" stroke="#1a94e0" stroke-width="1.75" fill="none" stroke-linejoin="round" opacity="1"/>
<path d="M574.80 140.24L579.50 132.84H570.10Z" stroke="#1a94e0" stroke-width="1.75" fill="none" stroke-linejoin="round" opacity="1"/>
<path d="M579.00 145.84L583.70 138.44H574.30Z" stroke="#1a94e0" stroke-width="1.75" fill="none" stroke-linejoin="round" opacity="1"/>
<path d="M539.90 159.94L544.60 152.54H535.20Z" stroke="#1a94e0" stroke-width="1.75" fill="none" stroke-linejoin="round" opacity="1"/>
<path d="M552.30 163.44L557.00 156.04H547.60Z" stroke="#1a94e0" stroke-width="1.75" fill="none" stroke-linejoin="round" opacity="1"/>
<path d="M564.20 162.04L568.90 154.64H559.50Z" stroke="#1a94e0" stroke-width="1.75" fill="none" stroke-linejoin="round" opacity="1"/>
<path d="M572.00 152.14L576.70 144.74H567.30Z" stroke="#1a94e0" stroke-width="1.75" fill="none" stroke-linejoin="round" opacity="1"/>
<path d="M580.40 163.44L585.10 156.04H575.70Z" stroke="#1a94e0" stroke-width="1.75" fill="none" stroke-linejoin="round" opacity="1"/>
<path d="M558.60 175.54L563.30 168.14H553.90Z" stroke="#1a94e0" stroke-width="1.75" fill="none" stroke-linejoin="round" opacity="1"/>
<path d="M554.40 182.64L559.10 175.24H549.70Z" stroke="#1a94e0" stroke-width="1.75" fill="none" stroke-linejoin="round" opacity="1"/>
<path d="M521.30 184.04L526.00 176.64H516.60Z" stroke="#1a94e0" stroke-width="1.75" fill="none" stroke-linejoin="round" opacity="1"/>
<path d="M503.20 210.34L507.90 202.94H498.50Z" stroke="#1a94e0" stroke-width="1.75" fill="none" stroke-linejoin="round" opacity="1"/>
<path d="M513.00 215.44L517.70 208.04H508.30Z" stroke="#1a94e0" stroke-width="1.75" fill="none" stroke-linejoin="round" opacity="1"/>
<path d="M649.50 146.00L656.50 141.80V150.20Z" stroke="#5c14b8" stroke-width="1.75" fill="none" stroke-linejoin="round" opacity="1"/>
<path d="M626.50 151.50L633.50 147.30V155.70Z" stroke="#5c14b8" stroke-width="1.75" fill="none" stroke-linejoin="round" opacity="1"/>
<path d="M614.60 159.40L621.60 155.20V163.60Z" stroke="#5c14b8" stroke-width="1.75" fill="none" stroke-linejoin="round" opacity="1"/>
<path d="M602.70 161.80L609.70 157.60V166.00Z" stroke="#5c14b8" stroke-width="1.75" fill="none" stroke-linejoin="round" opacity="1"/>
<path d="M598.00 178.40L605.00 174.20V182.60Z" stroke="#5c14b8" stroke-width="1.75" fill="none" stroke-linejoin="round" opacity="1"/>
<path d="M590.10 182.40L597.10 178.20V186.60Z" stroke="#5c14b8" stroke-width="1.75" fill="none" stroke-linejoin="round" opacity="1"/>
<path d="M576.20 181.70L583.20 177.50V185.90Z" stroke="#5c14b8" stroke-width="1.75" fill="none" stroke-linejoin="round" opacity="1"/>
<path d="M569.20 181.70L576.20 177.50V185.90Z" stroke="#5c14b8" stroke-width="1.75" fill="none" stroke-linejoin="round" opacity="1"/>
<path d="M560.70 183.10L567.70 178.90V187.30Z" stroke="#5c14b8" stroke-width="1.75" fill="none" stroke-linejoin="round" opacity="1"/>
<path d="M535.40 190.80L542.40 186.60V195.00Z" stroke="#5c14b8" stroke-width="1.75" fill="none" stroke-linejoin="round" opacity="1"/>
<path d="M548.10 188.70L555.10 184.50V192.90Z" stroke="#5c14b8" stroke-width="1.75" fill="none" stroke-linejoin="round" opacity="1"/>
<path d="M553.70 191.50L560.70 187.30V195.70Z" stroke="#5c14b8" stroke-width="1.75" fill="none" stroke-linejoin="round" opacity="1"/>
<path d="M548.10 196.50L555.10 192.30V200.70Z" stroke="#5c14b8" stroke-width="1.75" fill="none" stroke-linejoin="round" opacity="1"/>
<path d="M548.10 200.00L555.10 195.80V204.20Z" stroke="#5c14b8" stroke-width="1.75" fill="none" stroke-linejoin="round" opacity="1"/>
<path d="M517.10 200.70L524.10 196.50V204.90Z" stroke="#5c14b8" stroke-width="1.75" fill="none" stroke-linejoin="round" opacity="1"/>
<path d="M509.30 212.70L516.30 208.50V216.90Z" stroke="#5c14b8" stroke-width="1.75" fill="none" stroke-linejoin="round" opacity="1"/>
<path d="M498.50 214.80L505.50 210.60V219.00Z" stroke="#5c14b8" stroke-width="1.75" fill="none" stroke-linejoin="round" opacity="1"/>
<rect x="399" y="28" width="150" height="83" fill="#fff" opacity="0.6"/>
<text x="407.3" y="45.00" class="lg" fill="#d82422" stroke="#d82422" stroke-width="0.25">4.1V: R² = 0.42 ± 0.28</text>
<text x="407.3" y="59.97" class="lg" fill="#dea73e" stroke="#dea73e" stroke-width="0.25">4.0V: R² = 0.47 ± 0.27</text>
<text x="407.3" y="74.94" class="lg" fill="#1c9648" stroke="#1c9648" stroke-width="0.25">3.9V: R² = 0.52 ± 0.25</text>
<text x="407.3" y="89.91" class="lg" fill="#2496e0" stroke="#2496e0" stroke-width="0.25">3.8V: R² = 0.64 ± 0.21</text>
<text x="407.3" y="104.88" class="lg" fill="#5a16b0" stroke="#5a16b0" stroke-width="0.25">3.7V: R² = 0.88 ± 0.08</text>
<text transform="translate(363.4 170) rotate(-90)" class="xl">j<tspan dy="3.5" style="font-size:9px">0</tspan><tspan dy="-3.5"> [mA/cm²]</tspan></text>
<path d="M97.50 311.80V525.80M138.50 311.80V525.80M179.50 311.80V525.80M219.50 311.80V525.80M260.50 311.80V525.80M300.50 311.80V525.80M57.20 482.50H321.20M57.20 440.50H321.20M57.20 397.50H321.20M57.20 354.50H321.20" stroke="#c2c2c2" stroke-width="1" fill="none"/>
<path d="M57.20 525.80v-4M57.20 311.80v4M77.51 525.80v-2.5M77.51 311.80v2.5M97.82 525.80v-4M97.82 311.80v4M118.12 525.80v-2.5M118.12 311.80v2.5M138.43 525.80v-4M138.43 311.80v4M158.74 525.80v-2.5M158.74 311.80v2.5M179.05 525.80v-4M179.05 311.80v4M199.35 525.80v-2.5M199.35 311.80v2.5M219.66 525.80v-4M219.66 311.80v4M239.97 525.80v-2.5M239.97 311.80v2.5M260.28 525.80v-4M260.28 311.80v4M280.58 525.80v-2.5M280.58 311.80v2.5M300.89 525.80v-4M300.89 311.80v4M321.20 525.80v-2.5M321.20 311.80v2.5M57.20 525.80h4M321.20 525.80h-4M57.20 504.40h2.5M321.20 504.40h-2.5M57.20 483.00h4M321.20 483.00h-4M57.20 461.60h2.5M321.20 461.60h-2.5M57.20 440.20h4M321.20 440.20h-4M57.20 418.80h2.5M321.20 418.80h-2.5M57.20 397.40h4M321.20 397.40h-4M57.20 376.00h2.5M321.20 376.00h-2.5M57.20 354.60h4M321.20 354.60h-4M57.20 333.20h2.5M321.20 333.20h-2.5M57.20 311.80h4M321.20 311.80h-4" stroke="#000" stroke-width="1.3" fill="none"/>
<rect x="57.20" y="311.80" width="264.00" height="214.00" stroke="#000" stroke-width="2" fill="none"/>
<text x="57.20" y="540.80" text-anchor="middle" class="tk">0</text>
<text x="97.82" y="540.80" text-anchor="middle" class="tk">2</text>
<text x="138.43" y="540.80" text-anchor="middle" class="tk">4</text>
<text x="179.05" y="540.80" text-anchor="middle" class="tk">6</text>
<text x="219.66" y="540.80" text-anchor="middle" class="tk">8</text>
<text x="260.28" y="540.80" text-anchor="middle" class="tk">10</text>
<text x="300.89" y="540.80" text-anchor="middle" class="tk">12</text>
<text x="49.70" y="529.70" text-anchor="end" class="tk">0</text>
<text x="49.70" y="486.90" text-anchor="end" class="tk">50</text>
<text x="49.70" y="444.10" text-anchor="end" class="tk">100</text>
<text x="49.70" y="401.30" text-anchor="end" class="tk">150</text>
<text x="49.70" y="358.50" text-anchor="end" class="tk">200</text>
<text x="49.70" y="315.70" text-anchor="end" class="tk">250</text>
<text x="187.90" y="559.80" text-anchor="middle" class="xlb">Secondary particle diameter [μm]</text>
<path d="M57.20 435.92 L321.20 457.06" stroke="#e03a3e" stroke-width="1.5" fill="none" stroke-dasharray="5.5 9" stroke-dashoffset="-0.5" opacity="0.38"/>
<path d="M57.20 427.36 L321.20 436.26" stroke="#e3aa45" stroke-width="1.5" fill="none" stroke-dasharray="5.5 9" stroke-dashoffset="-0.5" opacity="0.38"/>
<path d="M57.20 348.61 L321.20 447.65" stroke="#1fba2a" stroke-width="1.5" fill="none" stroke-dasharray="5.5 9" stroke-dashoffset="-0.5" opacity="0.38"/>
<path d="M57.20 430.78 L321.20 400.74" stroke="#1a94e0" stroke-width="1.5" fill="none" stroke-dasharray="5.5 9" stroke-dashoffset="-0.5" opacity="0.38"/>
<path d="M57.20 449.10 L321.20 430.63" stroke="#5c14b8" stroke-width="1.5" fill="none" stroke-dasharray="5.5 9" stroke-dashoffset="-0.5" opacity="0.38"/>
<path d="M77.51 525.03 L79.54 524.87 L81.57 524.70 L83.60 524.51 L85.63 524.30 L87.66 524.08 L89.69 523.84 L91.72 523.59 L93.75 523.32 L95.78 523.04 L97.82 522.74 L99.85 522.43 L101.88 522.10 L103.91 521.75 L105.94 521.39 L107.97 521.02 L110.00 520.63 L112.03 520.22 L114.06 519.80 L116.09 519.36 L118.12 518.91 L120.15 518.45 L122.18 517.96 L124.22 517.47 L126.25 516.95 L128.28 516.43 L130.31 515.88 L132.34 515.32 L134.37 514.75 L136.40 514.16 L138.43 513.56 L140.46 512.94 L142.49 512.30 L144.52 511.65 L146.55 510.98 L148.58 510.30 L150.62 509.61 L152.65 508.90 L154.68 508.17 L156.71 507.43 L158.74 506.67 L160.77 505.90 L162.80 505.11 L164.83 504.30 L166.86 503.48 L168.89 502.65 L170.92 501.80 L172.95 500.94 L174.98 500.06 L177.02 499.16 L179.05 498.25 L181.08 497.32 L183.11 496.38 L185.14 495.43 L187.17 494.45 L189.20 493.47 L191.23 492.47 L193.26 491.45 L195.29 490.41 L197.32 489.37 L199.35 488.30 L201.38 487.22 L203.42 486.13 L205.45 485.02 L207.48 483.89 L209.51 482.75 L211.54 481.60 L213.57 480.43 L215.60 479.24 L217.63 478.04 L219.66 476.82 L221.69 475.59 L223.72 474.34 L225.75 473.08 L227.78 471.80 L229.82 470.51 L231.85 469.20 L233.88 467.88 L235.91 466.54 L237.94 465.18 L239.97 463.81 L242.00 462.43 L244.03 461.03 L246.06 459.61 L248.09 458.18 L250.12 456.73 L252.15 455.27 L254.18 453.80 L256.22 452.30 L258.25 450.80 L260.28 449.27 L262.31 447.74 L264.34 446.18 L266.37 444.61 L268.40 443.03 L270.43 441.43 L272.46 439.81 L274.49 438.18 L276.52 436.54 L278.55 434.88 L280.58 433.20 L282.62 431.51 L284.65 429.81 L286.68 428.08 L288.71 426.35 L290.74 424.59 L292.77 422.83 L294.80 421.04 L296.83 419.24 L298.86 417.43 L300.89 415.60 L302.92 413.76 L304.95 411.90 L306.98 410.02 L309.02 408.13 L311.05 406.23 L313.08 404.31" stroke="#6e6e6e" stroke-width="4.4" fill="none" stroke-dasharray="7 10.5" stroke-dashoffset="1" opacity="0.9"/>
<rect x="64.10" y="318.90" width="90.00" height="75.68" fill="#fff" opacity="0.75"/>
<text x="67.1" y="329.40" class="lg" fill="#d82422" stroke="#d82422" stroke-width="0.25">R² = 0.01 ± 0.09</text>
<text x="67.1" y="344.57" class="lg" fill="#dea73e" stroke="#dea73e" stroke-width="0.25">R² = 0.004 ± 0.05</text>
<text x="67.1" y="359.74" class="lg" fill="#1c9648" stroke="#1c9648" stroke-width="0.25">R² = 0.16 ± 0.25</text>
<text x="67.1" y="374.91" class="lg" fill="#2496e0" stroke="#2496e0" stroke-width="0.25">R² = 0.06 ± 0.16</text>
<text x="67.1" y="390.08" class="lg" fill="#5a16b0" stroke="#5a16b0" stroke-width="0.25">R² = 0.24 ± 0.27</text>
<rect x="203.20" y="394.40" width="6.4" height="6.4" stroke="#e03a3e" stroke-width="1.75" fill="none" opacity="1"/>
<rect x="232.30" y="416.70" width="6.4" height="6.4" stroke="#e03a3e" stroke-width="1.75" fill="none" opacity="1"/>
<rect x="165.10" y="433.00" width="6.4" height="6.4" stroke="#e03a3e" stroke-width="1.75" fill="none" opacity="1"/>
<rect x="209.10" y="442.30" width="6.4" height="6.4" stroke="#e03a3e" stroke-width="1.75" fill="none" opacity="1"/>
<rect x="216.70" y="441.00" width="6.4" height="6.4" stroke="#e03a3e" stroke-width="1.75" fill="none" opacity="1"/>
<rect x="259.80" y="437.90" width="6.4" height="6.4" stroke="#e03a3e" stroke-width="1.75" fill="none" opacity="1"/>
<rect x="246.40" y="446.00" width="6.4" height="6.4" stroke="#e03a3e" stroke-width="1.75" fill="none" opacity="1"/>
<rect x="283.00" y="447.80" width="6.4" height="6.4" stroke="#e03a3e" stroke-width="1.75" fill="none" opacity="1"/>
<rect x="305.00" y="466.80" width="6.4" height="6.4" stroke="#e03a3e" stroke-width="1.75" fill="none" opacity="1"/>
<rect x="223.60" y="456.60" width="6.4" height="6.4" stroke="#e03a3e" stroke-width="1.75" fill="none" opacity="1"/>
<rect x="230.90" y="455.30" width="6.4" height="6.4" stroke="#e03a3e" stroke-width="1.75" fill="none" opacity="1"/>
<rect x="225.80" y="468.10" width="6.4" height="6.4" stroke="#e03a3e" stroke-width="1.75" fill="none" opacity="1"/>
<rect x="271.00" y="469.80" width="6.4" height="6.4" stroke="#e03a3e" stroke-width="1.75" fill="none" opacity="1"/>
<rect x="203.80" y="454.80" width="6.4" height="6.4" stroke="#e03a3e" stroke-width="1.75" fill="none" opacity="1"/>
<rect x="206.00" y="477.10" width="6.4" height="6.4" stroke="#e03a3e" stroke-width="1.75" fill="none" opacity="1"/>
<rect x="172.80" y="481.60" width="6.4" height="6.4" stroke="#e03a3e" stroke-width="1.75" fill="none" opacity="1"/>
<rect x="191.20" y="486.80" width="6.4" height="6.4" stroke="#e03a3e" stroke-width="1.75" fill="none" opacity="1"/>
<circle cx="208.60" cy="398.50" r="3.8" stroke="#e3aa45" stroke-width="1.75" fill="none" opacity="1"/>
<circle cx="219.70" cy="413.50" r="3.8" stroke="#e3aa45" stroke-width="1.75" fill="none" opacity="1"/>
<circle cx="214.10" cy="427.60" r="3.8" stroke="#e3aa45" stroke-width="1.75" fill="none" opacity="1"/>
<circle cx="234.80" cy="427.70" r="3.8" stroke="#e3aa45" stroke-width="1.75" fill="none" opacity="1"/>
<circle cx="235.90" cy="389.20" r="3.8" stroke="#e3aa45" stroke-width="1.75" fill="none" opacity="1"/>
<circle cx="261.50" cy="416.30" r="3.8" stroke="#e3aa45" stroke-width="1.75" fill="none" opacity="1"/>
<circle cx="285.50" cy="436.80" r="3.8" stroke="#e3aa45" stroke-width="1.75" fill="none" opacity="1"/>
<circle cx="249.60" cy="434.10" r="3.8" stroke="#e3aa45" stroke-width="1.75" fill="none" opacity="1"/>
<circle cx="157.70" cy="420.70" r="3.8" stroke="#e3aa45" stroke-width="1.75" fill="none" opacity="1"/>
<circle cx="176.00" cy="462.30" r="3.8" stroke="#e3aa45" stroke-width="1.75" fill="none" opacity="1"/>
<circle cx="194.40" cy="470.00" r="3.8" stroke="#e3aa45" stroke-width="1.75" fill="none" opacity="1"/>
<circle cx="209.20" cy="461.50" r="3.8" stroke="#e3aa45" stroke-width="1.75" fill="none" opacity="1"/>
<circle cx="228.50" cy="450.00" r="3.8" stroke="#e3aa45" stroke-width="1.75" fill="none" opacity="1"/>
<circle cx="274.20" cy="461.50" r="3.8" stroke="#e3aa45" stroke-width="1.75" fill="none" opacity="1"/>
<circle cx="308.20" cy="460.30" r="3.8" stroke="#e3aa45" stroke-width="1.75" fill="none" opacity="1"/>
<path d="M219.20 377.76L223.90 385.16H214.50Z" stroke="#1fba2a" stroke-width="1.75" fill="none" stroke-linejoin="round" opacity="1"/>
<path d="M235.50 372.86L240.20 380.26H230.80Z" stroke="#1fba2a" stroke-width="1.75" fill="none" stroke-linejoin="round" opacity="1"/>
<path d="M227.10 401.46L231.80 408.86H222.40Z" stroke="#1fba2a" stroke-width="1.75" fill="none" stroke-linejoin="round" opacity="1"/>
<path d="M234.20 401.46L238.90 408.86H229.50Z" stroke="#1fba2a" stroke-width="1.75" fill="none" stroke-linejoin="round" opacity="1"/>
<path d="M212.00 411.86L216.70 419.26H207.30Z" stroke="#1fba2a" stroke-width="1.75" fill="none" stroke-linejoin="round" opacity="1"/>
<path d="M204.90 421.06L209.60 428.46H200.20Z" stroke="#1fba2a" stroke-width="1.75" fill="none" stroke-linejoin="round" opacity="1"/>
<path d="M229.20 421.06L233.90 428.46H224.50Z" stroke="#1fba2a" stroke-width="1.75" fill="none" stroke-linejoin="round" opacity="1"/>
<path d="M261.50 391.46L266.20 398.86H256.80Z" stroke="#1fba2a" stroke-width="1.75" fill="none" stroke-linejoin="round" opacity="1"/>
<path d="M249.60 414.06L254.30 421.46H244.90Z" stroke="#1fba2a" stroke-width="1.75" fill="none" stroke-linejoin="round" opacity="1"/>
<path d="M258.00 414.06L262.70 421.46H253.30Z" stroke="#1fba2a" stroke-width="1.75" fill="none" stroke-linejoin="round" opacity="1"/>
<path d="M286.20 420.36L290.90 427.76H281.50Z" stroke="#1fba2a" stroke-width="1.75" fill="none" stroke-linejoin="round" opacity="1"/>
<path d="M168.30 406.26L173.00 413.66H163.60Z" stroke="#1fba2a" stroke-width="1.75" fill="none" stroke-linejoin="round" opacity="1"/>
<path d="M176.80 436.66L181.50 444.06H172.10Z" stroke="#1fba2a" stroke-width="1.75" fill="none" stroke-linejoin="round" opacity="1"/>
<path d="M194.40 445.86L199.10 453.26H189.70Z" stroke="#1fba2a" stroke-width="1.75" fill="none" stroke-linejoin="round" opacity="1"/>
<path d="M274.20 444.46L278.90 451.86H269.50Z" stroke="#1fba2a" stroke-width="1.75" fill="none" stroke-linejoin="round" opacity="1"/>
<path d="M308.20 444.06L312.90 451.46H303.50Z" stroke="#1fba2a" stroke-width="1.75" fill="none" stroke-linejoin="round" opacity="1"/>
<path d="M219.20 384.44L223.90 377.04H214.50Z" stroke="#1a94e0" stroke-width="1.75" fill="none" stroke-linejoin="round" opacity="1"/>
<path d="M233.70 386.14L238.40 378.74H229.00Z" stroke="#1a94e0" stroke-width="1.75" fill="none" stroke-linejoin="round" opacity="1"/>
<path d="M227.60 393.24L232.30 385.84H222.90Z" stroke="#1a94e0" stroke-width="1.75" fill="none" stroke-linejoin="round" opacity="1"/>
<path d="M229.30 402.04L234.00 394.64H224.60Z" stroke="#1a94e0" stroke-width="1.75" fill="none" stroke-linejoin="round" opacity="1"/>
<path d="M235.90 400.74L240.60 393.34H231.20Z" stroke="#1a94e0" stroke-width="1.75" fill="none" stroke-linejoin="round" opacity="1"/>
<path d="M208.60 409.04L213.30 401.64H203.90Z" stroke="#1a94e0" stroke-width="1.75" fill="none" stroke-linejoin="round" opacity="1"/>
<path d="M206.40 415.24L211.10 407.84H201.70Z" stroke="#1a94e0" stroke-width="1.75" fill="none" stroke-linejoin="round" opacity="1"/>
<path d="M213.90 415.24L218.60 407.84H209.20Z" stroke="#1a94e0" stroke-width="1.75" fill="none" stroke-linejoin="round" opacity="1"/>
<path d="M208.50 427.84L213.20 420.44H203.80Z" stroke="#1a94e0" stroke-width="1.75" fill="none" stroke-linejoin="round" opacity="1"/>
<path d="M261.50 381.34L266.20 373.94H256.80Z" stroke="#1a94e0" stroke-width="1.75" fill="none" stroke-linejoin="round" opacity="1"/>
<path d="M249.60 417.24L254.30 409.84H244.90Z" stroke="#1a94e0" stroke-width="1.75" fill="none" stroke-linejoin="round" opacity="1"/>
<path d="M258.00 428.54L262.70 421.14H253.30Z" stroke="#1a94e0" stroke-width="1.75" fill="none" stroke-linejoin="round" opacity="1"/>
<path d="M274.20 430.64L278.90 423.24H269.50Z" stroke="#1a94e0" stroke-width="1.75" fill="none" stroke-linejoin="round" opacity="1"/>
<path d="M286.20 419.34L290.90 411.94H281.50Z" stroke="#1a94e0" stroke-width="1.75" fill="none" stroke-linejoin="round" opacity="1"/>
<path d="M308.20 431.34L312.90 423.94H303.50Z" stroke="#1a94e0" stroke-width="1.75" fill="none" stroke-linejoin="round" opacity="1"/>
<path d="M158.50 434.14L163.20 426.74H153.80Z" stroke="#1a94e0" stroke-width="1.75" fill="none" stroke-linejoin="round" opacity="1"/>
<path d="M176.80 422.94L181.50 415.54H172.10Z" stroke="#1a94e0" stroke-width="1.75" fill="none" stroke-linejoin="round" opacity="1"/>
<path d="M195.10 425.04L199.80 417.64H190.40Z" stroke="#1a94e0" stroke-width="1.75" fill="none" stroke-linejoin="round" opacity="1"/>
<path d="M168.30 445.54L173.00 438.14H163.60Z" stroke="#1a94e0" stroke-width="1.75" fill="none" stroke-linejoin="round" opacity="1"/>
<path d="M152.80 438.30L159.80 434.10V442.50Z" stroke="#5c14b8" stroke-width="1.75" fill="none" stroke-linejoin="round" opacity="1"/>
<path d="M171.80 436.20L178.80 432.00V440.40Z" stroke="#5c14b8" stroke-width="1.75" fill="none" stroke-linejoin="round" opacity="1"/>
<path d="M163.40 455.90L170.40 451.70V460.10Z" stroke="#5c14b8" stroke-width="1.75" fill="none" stroke-linejoin="round" opacity="1"/>
<path d="M189.50 432.70L196.50 428.50V436.90Z" stroke="#5c14b8" stroke-width="1.75" fill="none" stroke-linejoin="round" opacity="1"/>
<path d="M202.10 434.10L209.10 429.90V438.30Z" stroke="#5c14b8" stroke-width="1.75" fill="none" stroke-linejoin="round" opacity="1"/>
<path d="M202.80 444.60L209.80 440.40V448.80Z" stroke="#5c14b8" stroke-width="1.75" fill="none" stroke-linejoin="round" opacity="1"/>
<path d="M208.80 440.00L215.80 435.80V444.20Z" stroke="#5c14b8" stroke-width="1.75" fill="none" stroke-linejoin="round" opacity="1"/>
<path d="M215.80 433.60L222.80 429.40V437.80Z" stroke="#5c14b8" stroke-width="1.75" fill="none" stroke-linejoin="round" opacity="1"/>
<path d="M223.80 434.50L230.80 430.30V438.70Z" stroke="#5c14b8" stroke-width="1.75" fill="none" stroke-linejoin="round" opacity="1"/>
<path d="M231.30 436.90L238.30 432.70V441.10Z" stroke="#5c14b8" stroke-width="1.75" fill="none" stroke-linejoin="round" opacity="1"/>
<path d="M245.40 441.80L252.40 437.60V446.00Z" stroke="#5c14b8" stroke-width="1.75" fill="none" stroke-linejoin="round" opacity="1"/>
<path d="M255.20 441.10L262.20 436.90V445.30Z" stroke="#5c14b8" stroke-width="1.75" fill="none" stroke-linejoin="round" opacity="1"/>
<path d="M256.60 429.20L263.60 425.00V433.40Z" stroke="#5c14b8" stroke-width="1.75" fill="none" stroke-linejoin="round" opacity="1"/>
<path d="M269.30 432.70L276.30 428.50V436.90Z" stroke="#5c14b8" stroke-width="1.75" fill="none" stroke-linejoin="round" opacity="1"/>
<path d="M282.00 430.60L289.00 426.40V434.80Z" stroke="#5c14b8" stroke-width="1.75" fill="none" stroke-linejoin="round" opacity="1"/>
<path d="M304.00 432.30L311.00 428.10V436.50Z" stroke="#5c14b8" stroke-width="1.75" fill="none" stroke-linejoin="round" opacity="1"/>
<rect transform="translate(100.3 512.3) rotate(-14.6)" x="-20" y="-12" width="104" height="18" rx="6" fill="#fff" opacity="0.75"/>
<text transform="translate(100.3 512.3) rotate(-14.6)" class="ex">Expected<tspan style="font-weight:normal;font-size:14px" dx="5" dy="0.5">τ</tspan><tspan dx="0.5" dy="3.5" style="font-size:7.5px">D</tspan></text>
<text transform="translate(20 421) rotate(-90)" class="xl"><tspan style="font-weight:normal;font-size:13px">τ</tspan><tspan dy="3.5" style="font-size:8.5px;font-weight:normal">D</tspan><tspan dy="-3.5"> [s]</tspan></text>
<path d="M441.50 311.80V525.80M482.50 311.80V525.80M523.50 311.80V525.80M563.50 311.80V525.80M604.50 311.80V525.80M644.50 311.80V525.80M401.30 482.50H665.30M401.30 440.50H665.30M401.30 397.50H665.30M401.30 354.50H665.30" stroke="#c2c2c2" stroke-width="1" fill="none"/>
<path d="M401.30 525.80v-4M401.30 311.80v4M421.61 525.80v-2.5M421.61 311.80v2.5M441.92 525.80v-4M441.92 311.80v4M462.22 525.80v-2.5M462.22 311.80v2.5M482.53 525.80v-4M482.53 311.80v4M502.84 525.80v-2.5M502.84 311.80v2.5M523.15 525.80v-4M523.15 311.80v4M543.45 525.80v-2.5M543.45 311.80v2.5M563.76 525.80v-4M563.76 311.80v4M584.07 525.80v-2.5M584.07 311.80v2.5M604.38 525.80v-4M604.38 311.80v4M624.68 525.80v-2.5M624.68 311.80v2.5M644.99 525.80v-4M644.99 311.80v4M665.30 525.80v-2.5M665.30 311.80v2.5M401.30 525.80h4M665.30 525.80h-4M401.30 504.40h2.5M665.30 504.40h-2.5M401.30 483.00h4M665.30 483.00h-4M401.30 461.60h2.5M665.30 461.60h-2.5M401.30 440.20h4M665.30 440.20h-4M401.30 418.80h2.5M665.30 418.80h-2.5M401.30 397.40h4M665.30 397.40h-4M401.30 376.00h2.5M665.30 376.00h-2.5M401.30 354.60h4M665.30 354.60h-4M401.30 333.20h2.5M665.30 333.20h-2.5M401.30 311.80h4M665.30 311.80h-4" stroke="#000" stroke-width="1.3" fill="none"/>
<rect x="401.30" y="311.80" width="264.00" height="214.00" stroke="#000" stroke-width="2" fill="none"/>
<text x="401.30" y="540.80" text-anchor="middle" class="tk">0</text>
<text x="441.92" y="540.80" text-anchor="middle" class="tk">2</text>
<text x="482.53" y="540.80" text-anchor="middle" class="tk">4</text>
<text x="523.15" y="540.80" text-anchor="middle" class="tk">6</text>
<text x="563.76" y="540.80" text-anchor="middle" class="tk">8</text>
<text x="604.38" y="540.80" text-anchor="middle" class="tk">10</text>
<text x="644.99" y="540.80" text-anchor="middle" class="tk">12</text>
<text x="393.80" y="529.70" text-anchor="end" class="tk">0</text>
<text x="393.80" y="486.90" text-anchor="end" class="tk">50</text>
<text x="393.80" y="444.10" text-anchor="end" class="tk">100</text>
<text x="393.80" y="401.30" text-anchor="end" class="tk">150</text>
<text x="393.80" y="358.50" text-anchor="end" class="tk">200</text>
<text x="393.80" y="315.70" text-anchor="end" class="tk">250</text>
<text x="532.00" y="559.80" text-anchor="middle" class="xlb">Secondary particle diameter [μm]</text>
<path d="M401.30 391.41 L665.30 483.77" stroke="#e03a3e" stroke-width="1.5" fill="none" stroke-dasharray="5.5 9" stroke-dashoffset="-0.5" opacity="0.38"/>
<path d="M401.30 357.60 L665.30 487.79" stroke="#e3aa45" stroke-width="1.5" fill="none" stroke-dasharray="5.5 9" stroke-dashoffset="-0.5" opacity="0.38"/>
<path d="M401.30 349.46 L665.30 483.00" stroke="#1fba2a" stroke-width="1.5" fill="none" stroke-dasharray="5.5 9" stroke-dashoffset="-0.5" opacity="0.38"/>
<path d="M401.30 395.69 L665.30 482.49" stroke="#1a94e0" stroke-width="1.5" fill="none" stroke-dasharray="5.5 9" stroke-dashoffset="-0.5" opacity="0.38"/>
<path d="M401.30 387.13 L665.30 437.20" stroke="#5c14b8" stroke-width="1.5" fill="none" stroke-dasharray="5.5 9" stroke-dashoffset="-0.5" opacity="0.38"/>
<path d="M423.64 517.09 L660.22 424.85" stroke="#6e6e6e" stroke-width="4.4" fill="none" stroke-dasharray="7 10.5" stroke-dashoffset="1" opacity="0.9"/>
<rect x="406.80" y="318.60" width="86.00" height="76.00" fill="#fff" opacity="0.75"/>
<text x="409.8" y="329.10" class="lg" fill="#d82422" stroke="#d82422" stroke-width="0.25">R² = 0.12 ± 0.22</text>
<text x="409.8" y="344.35" class="lg" fill="#dea73e" stroke="#dea73e" stroke-width="0.25">R² = 0.17 ± 0.25</text>
<text x="409.8" y="359.60" class="lg" fill="#1c9648" stroke="#1c9648" stroke-width="0.25">R² = 0.21 ± 0.27</text>
<text x="409.8" y="374.85" class="lg" fill="#2496e0" stroke="#2496e0" stroke-width="0.25">R² = 0.27 ± 0.28</text>
<text x="409.8" y="390.10" class="lg" fill="#5a16b0" stroke="#5a16b0" stroke-width="0.25">R² = 0.35 ± 0.28</text>
<rect x="510.00" y="335.30" width="6.4" height="6.4" stroke="#e03a3e" stroke-width="1.75" fill="none" opacity="0.4"/>
<rect x="550.50" y="374.50" width="6.4" height="6.4" stroke="#e03a3e" stroke-width="1.75" fill="none" opacity="1"/>
<rect x="548.80" y="390.00" width="6.4" height="6.4" stroke="#e03a3e" stroke-width="1.75" fill="none" opacity="1"/>
<rect x="598.80" y="386.70" width="6.4" height="6.4" stroke="#e03a3e" stroke-width="1.75" fill="none" opacity="1"/>
<rect x="499.30" y="421.20" width="6.4" height="6.4" stroke="#e03a3e" stroke-width="1.75" fill="none" opacity="1"/>
<rect x="547.20" y="464.10" width="6.4" height="6.4" stroke="#e03a3e" stroke-width="1.75" fill="none" opacity="1"/>
<rect x="550.00" y="481.00" width="6.4" height="6.4" stroke="#e03a3e" stroke-width="1.75" fill="none" opacity="1"/>
<rect x="560.60" y="467.60" width="6.4" height="6.4" stroke="#e03a3e" stroke-width="1.75" fill="none" opacity="1"/>
<rect x="569.10" y="473.30" width="6.4" height="6.4" stroke="#e03a3e" stroke-width="1.75" fill="none" opacity="1"/>
<rect x="575.40" y="468.30" width="6.4" height="6.4" stroke="#e03a3e" stroke-width="1.75" fill="none" opacity="1"/>
<rect x="570.50" y="480.30" width="6.4" height="6.4" stroke="#e03a3e" stroke-width="1.75" fill="none" opacity="1"/>
<rect x="576.80" y="451.40" width="6.4" height="6.4" stroke="#e03a3e" stroke-width="1.75" fill="none" opacity="1"/>
<rect x="590.90" y="451.40" width="6.4" height="6.4" stroke="#e03a3e" stroke-width="1.75" fill="none" opacity="1"/>
<rect x="603.60" y="473.30" width="6.4" height="6.4" stroke="#e03a3e" stroke-width="1.75" fill="none" opacity="1"/>
<rect x="615.30" y="476.00" width="6.4" height="6.4" stroke="#e03a3e" stroke-width="1.75" fill="none" opacity="1"/>
<rect x="627.60" y="458.40" width="6.4" height="6.4" stroke="#e03a3e" stroke-width="1.75" fill="none" opacity="1"/>
<rect x="649.60" y="476.00" width="6.4" height="6.4" stroke="#e03a3e" stroke-width="1.75" fill="none" opacity="1"/>
<rect x="536.40" y="485.20" width="6.4" height="6.4" stroke="#e03a3e" stroke-width="1.75" fill="none" opacity="1"/>
<rect x="518.00" y="475.10" width="6.4" height="6.4" stroke="#e03a3e" stroke-width="1.75" fill="none" opacity="1"/>
<circle cx="513.20" cy="326.80" r="3.8" stroke="#e3aa45" stroke-width="1.75" fill="none" opacity="0.5"/>
<circle cx="551.70" cy="355.20" r="3.8" stroke="#e3aa45" stroke-width="1.75" fill="none" opacity="1"/>
<circle cx="602.00" cy="387.00" r="3.8" stroke="#e3aa45" stroke-width="1.75" fill="none" opacity="1"/>
<circle cx="552.70" cy="432.10" r="3.8" stroke="#e3aa45" stroke-width="1.75" fill="none" opacity="1"/>
<circle cx="580.10" cy="442.00" r="3.8" stroke="#e3aa45" stroke-width="1.75" fill="none" opacity="1"/>
<circle cx="594.10" cy="449.70" r="3.8" stroke="#e3aa45" stroke-width="1.75" fill="none" opacity="1"/>
<circle cx="563.80" cy="462.40" r="3.8" stroke="#e3aa45" stroke-width="1.75" fill="none" opacity="1"/>
<circle cx="553.20" cy="479.30" r="3.8" stroke="#e3aa45" stroke-width="1.75" fill="none" opacity="1"/>
<circle cx="573.70" cy="477.90" r="3.8" stroke="#e3aa45" stroke-width="1.75" fill="none" opacity="1"/>
<circle cx="539.60" cy="478.80" r="3.8" stroke="#e3aa45" stroke-width="1.75" fill="none" opacity="1"/>
<circle cx="521.20" cy="465.70" r="3.8" stroke="#e3aa45" stroke-width="1.75" fill="none" opacity="1"/>
<path d="M513.20 332.46L517.90 339.86H508.50Z" stroke="#1fba2a" stroke-width="1.75" fill="none" stroke-linejoin="round" opacity="0.5"/>
<path d="M502.50 388.26L507.20 395.66H497.80Z" stroke="#1fba2a" stroke-width="1.75" fill="none" stroke-linejoin="round" opacity="0.5"/>
<path d="M551.70 334.56L556.40 341.96H547.00Z" stroke="#1fba2a" stroke-width="1.75" fill="none" stroke-linejoin="round" opacity="1"/>
<path d="M553.70 365.56L558.40 372.96H549.00Z" stroke="#1fba2a" stroke-width="1.75" fill="none" stroke-linejoin="round" opacity="1"/>
<path d="M602.00 392.46L606.70 399.86H597.30Z" stroke="#1fba2a" stroke-width="1.75" fill="none" stroke-linejoin="round" opacity="1"/>
<path d="M557.60 428.36L562.30 435.76H552.90Z" stroke="#1fba2a" stroke-width="1.75" fill="none" stroke-linejoin="round" opacity="1"/>
<path d="M580.00 428.36L584.70 435.76H575.30Z" stroke="#1fba2a" stroke-width="1.75" fill="none" stroke-linejoin="round" opacity="1"/>
<path d="M564.00 445.96L568.70 453.36H559.30Z" stroke="#1fba2a" stroke-width="1.75" fill="none" stroke-linejoin="round" opacity="1"/>
<path d="M551.80 446.66L556.50 454.06H547.10Z" stroke="#1fba2a" stroke-width="1.75" fill="none" stroke-linejoin="round" opacity="1"/>
<path d="M553.20 469.96L557.90 477.36H548.50Z" stroke="#1fba2a" stroke-width="1.75" fill="none" stroke-linejoin="round" opacity="1"/>
<path d="M572.30 451.66L577.00 459.06H567.60Z" stroke="#1fba2a" stroke-width="1.75" fill="none" stroke-linejoin="round" opacity="1"/>
<path d="M577.90 453.06L582.60 460.46H573.20Z" stroke="#1fba2a" stroke-width="1.75" fill="none" stroke-linejoin="round" opacity="1"/>
<path d="M594.10 434.06L598.80 441.46H589.40Z" stroke="#1fba2a" stroke-width="1.75" fill="none" stroke-linejoin="round" opacity="1"/>
<path d="M606.80 459.36L611.50 466.76H602.10Z" stroke="#1fba2a" stroke-width="1.75" fill="none" stroke-linejoin="round" opacity="1"/>
<path d="M618.50 464.26L623.20 471.66H613.80Z" stroke="#1fba2a" stroke-width="1.75" fill="none" stroke-linejoin="round" opacity="1"/>
<path d="M630.80 449.26L635.50 456.66H626.10Z" stroke="#1fba2a" stroke-width="1.75" fill="none" stroke-linejoin="round" opacity="1"/>
<path d="M652.80 466.86L657.50 474.26H648.10Z" stroke="#1fba2a" stroke-width="1.75" fill="none" stroke-linejoin="round" opacity="1"/>
<path d="M521.20 446.66L525.90 454.06H516.50Z" stroke="#1fba2a" stroke-width="1.75" fill="none" stroke-linejoin="round" opacity="1"/>
<path d="M539.60 466.56L544.30 473.96H534.90Z" stroke="#1fba2a" stroke-width="1.75" fill="none" stroke-linejoin="round" opacity="1"/>
<path d="M502.50 433.74L507.20 426.34H497.80Z" stroke="#1a94e0" stroke-width="1.75" fill="none" stroke-linejoin="round" opacity="1"/>
<path d="M552.00 400.64L556.70 393.24H547.30Z" stroke="#1a94e0" stroke-width="1.75" fill="none" stroke-linejoin="round" opacity="1"/>
<path d="M513.10 400.44L517.80 393.04H508.40Z" stroke="#1a94e0" stroke-width="1.75" fill="none" stroke-linejoin="round" opacity="0.5"/>
<path d="M551.80 414.74L556.50 407.34H547.10Z" stroke="#1a94e0" stroke-width="1.75" fill="none" stroke-linejoin="round" opacity="1"/>
<path d="M553.20 445.04L557.90 437.64H548.50Z" stroke="#1a94e0" stroke-width="1.75" fill="none" stroke-linejoin="round" opacity="1"/>
<path d="M557.60 450.64L562.30 443.24H552.90Z" stroke="#1a94e0" stroke-width="1.75" fill="none" stroke-linejoin="round" opacity="1"/>
<path d="M551.80 466.14L556.50 458.74H547.10Z" stroke="#1a94e0" stroke-width="1.75" fill="none" stroke-linejoin="round" opacity="1"/>
<path d="M553.20 475.24L557.90 467.84H548.50Z" stroke="#1a94e0" stroke-width="1.75" fill="none" stroke-linejoin="round" opacity="1"/>
<path d="M563.80 461.24L568.50 453.84H559.10Z" stroke="#1a94e0" stroke-width="1.75" fill="none" stroke-linejoin="round" opacity="1"/>
<path d="M572.30 465.44L577.00 458.04H567.60Z" stroke="#1a94e0" stroke-width="1.75" fill="none" stroke-linejoin="round" opacity="1"/>
<path d="M578.60 466.84L583.30 459.44H573.90Z" stroke="#1a94e0" stroke-width="1.75" fill="none" stroke-linejoin="round" opacity="1"/>
<path d="M573.70 472.44L578.40 465.04H569.00Z" stroke="#1a94e0" stroke-width="1.75" fill="none" stroke-linejoin="round" opacity="1"/>
<path d="M580.00 453.44L584.70 446.04H575.30Z" stroke="#1a94e0" stroke-width="1.75" fill="none" stroke-linejoin="round" opacity="1"/>
<path d="M594.10 447.84L598.80 440.44H589.40Z" stroke="#1a94e0" stroke-width="1.75" fill="none" stroke-linejoin="round" opacity="1"/>
<path d="M602.00 437.94L606.70 430.54H597.30Z" stroke="#1a94e0" stroke-width="1.75" fill="none" stroke-linejoin="round" opacity="1"/>
<path d="M606.80 475.94L611.50 468.54H602.10Z" stroke="#1a94e0" stroke-width="1.75" fill="none" stroke-linejoin="round" opacity="1"/>
<path d="M618.50 478.44L623.20 471.04H613.80Z" stroke="#1a94e0" stroke-width="1.75" fill="none" stroke-linejoin="round" opacity="1"/>
<path d="M630.80 473.14L635.50 465.74H626.10Z" stroke="#1a94e0" stroke-width="1.75" fill="none" stroke-linejoin="round" opacity="1"/>
<path d="M652.80 481.04L657.50 473.64H648.10Z" stroke="#1a94e0" stroke-width="1.75" fill="none" stroke-linejoin="round" opacity="1"/>
<path d="M521.20 461.84L525.90 454.44H516.50Z" stroke="#1a94e0" stroke-width="1.75" fill="none" stroke-linejoin="round" opacity="1"/>
<path d="M539.60 473.04L544.30 465.64H534.90Z" stroke="#1a94e0" stroke-width="1.75" fill="none" stroke-linejoin="round" opacity="1"/>
<path d="M498.30 400.40L505.30 396.20V404.60Z" stroke="#5c14b8" stroke-width="1.75" fill="none" stroke-linejoin="round" opacity="1"/>
<path d="M508.90 396.90L515.90 392.70V401.10Z" stroke="#5c14b8" stroke-width="1.75" fill="none" stroke-linejoin="round" opacity="1"/>
<path d="M516.60 424.40L523.60 420.20V428.60Z" stroke="#5c14b8" stroke-width="1.75" fill="none" stroke-linejoin="round" opacity="1"/>
<path d="M535.00 430.00L542.00 425.80V434.20Z" stroke="#5c14b8" stroke-width="1.75" fill="none" stroke-linejoin="round" opacity="1"/>
<path d="M548.50 399.70L555.50 395.50V403.90Z" stroke="#5c14b8" stroke-width="1.75" fill="none" stroke-linejoin="round" opacity="1"/>
<path d="M549.90 413.80L556.90 409.60V418.00Z" stroke="#5c14b8" stroke-width="1.75" fill="none" stroke-linejoin="round" opacity="1"/>
<path d="M554.10 417.30L561.10 413.10V421.50Z" stroke="#5c14b8" stroke-width="1.75" fill="none" stroke-linejoin="round" opacity="1"/>
<path d="M547.80 425.80L554.80 421.60V430.00Z" stroke="#5c14b8" stroke-width="1.75" fill="none" stroke-linejoin="round" opacity="1"/>
<path d="M560.40 427.20L567.40 423.00V431.40Z" stroke="#5c14b8" stroke-width="1.75" fill="none" stroke-linejoin="round" opacity="1"/>
<path d="M567.50 424.40L574.50 420.20V428.60Z" stroke="#5c14b8" stroke-width="1.75" fill="none" stroke-linejoin="round" opacity="1"/>
<path d="M575.20 420.10L582.20 415.90V424.30Z" stroke="#5c14b8" stroke-width="1.75" fill="none" stroke-linejoin="round" opacity="1"/>
<path d="M590.00 411.70L597.00 407.50V415.90Z" stroke="#5c14b8" stroke-width="1.75" fill="none" stroke-linejoin="round" opacity="1"/>
<path d="M597.80 413.10L604.80 408.90V417.30Z" stroke="#5c14b8" stroke-width="1.75" fill="none" stroke-linejoin="round" opacity="1"/>
<path d="M602.00 434.20L609.00 430.00V438.40Z" stroke="#5c14b8" stroke-width="1.75" fill="none" stroke-linejoin="round" opacity="1"/>
<path d="M613.40 431.70L620.40 427.50V435.90Z" stroke="#5c14b8" stroke-width="1.75" fill="none" stroke-linejoin="round" opacity="1"/>
<path d="M626.60 435.20L633.60 431.00V439.40Z" stroke="#5c14b8" stroke-width="1.75" fill="none" stroke-linejoin="round" opacity="1"/>
<path d="M648.60 431.70L655.60 427.50V435.90Z" stroke="#5c14b8" stroke-width="1.75" fill="none" stroke-linejoin="round" opacity="1"/>
<rect transform="translate(433.8 503.3) rotate(-19.6)" x="-20" y="-13" width="100" height="20" rx="6" fill="#fff" opacity="0.75"/>
<text transform="translate(433.8 503.3) rotate(-19.6)" class="ex">Expected<tspan style="font-weight:normal;font-size:14px" dx="5" dy="0.5">τ</tspan><tspan dx="0.5" dy="3.5" style="font-size:7.5px">R</tspan></text>
<text transform="translate(365.3 422) rotate(-90)" class="xl"><tspan style="font-weight:normal;font-size:13px">τ</tspan><tspan dy="3.5" style="font-size:8.5px;font-weight:normal">R</tspan><tspan dy="-3.5"> [s]</tspan></text>
<text x="5.8" y="17.2" class="pl">a</text>
<text x="344.2" y="19.8" class="pl">b</text>
<text x="5.8" y="304.3" class="pl">c</text>
<text x="349.2" y="304.3" class="pl">d</text>
</svg>
</body></html>
